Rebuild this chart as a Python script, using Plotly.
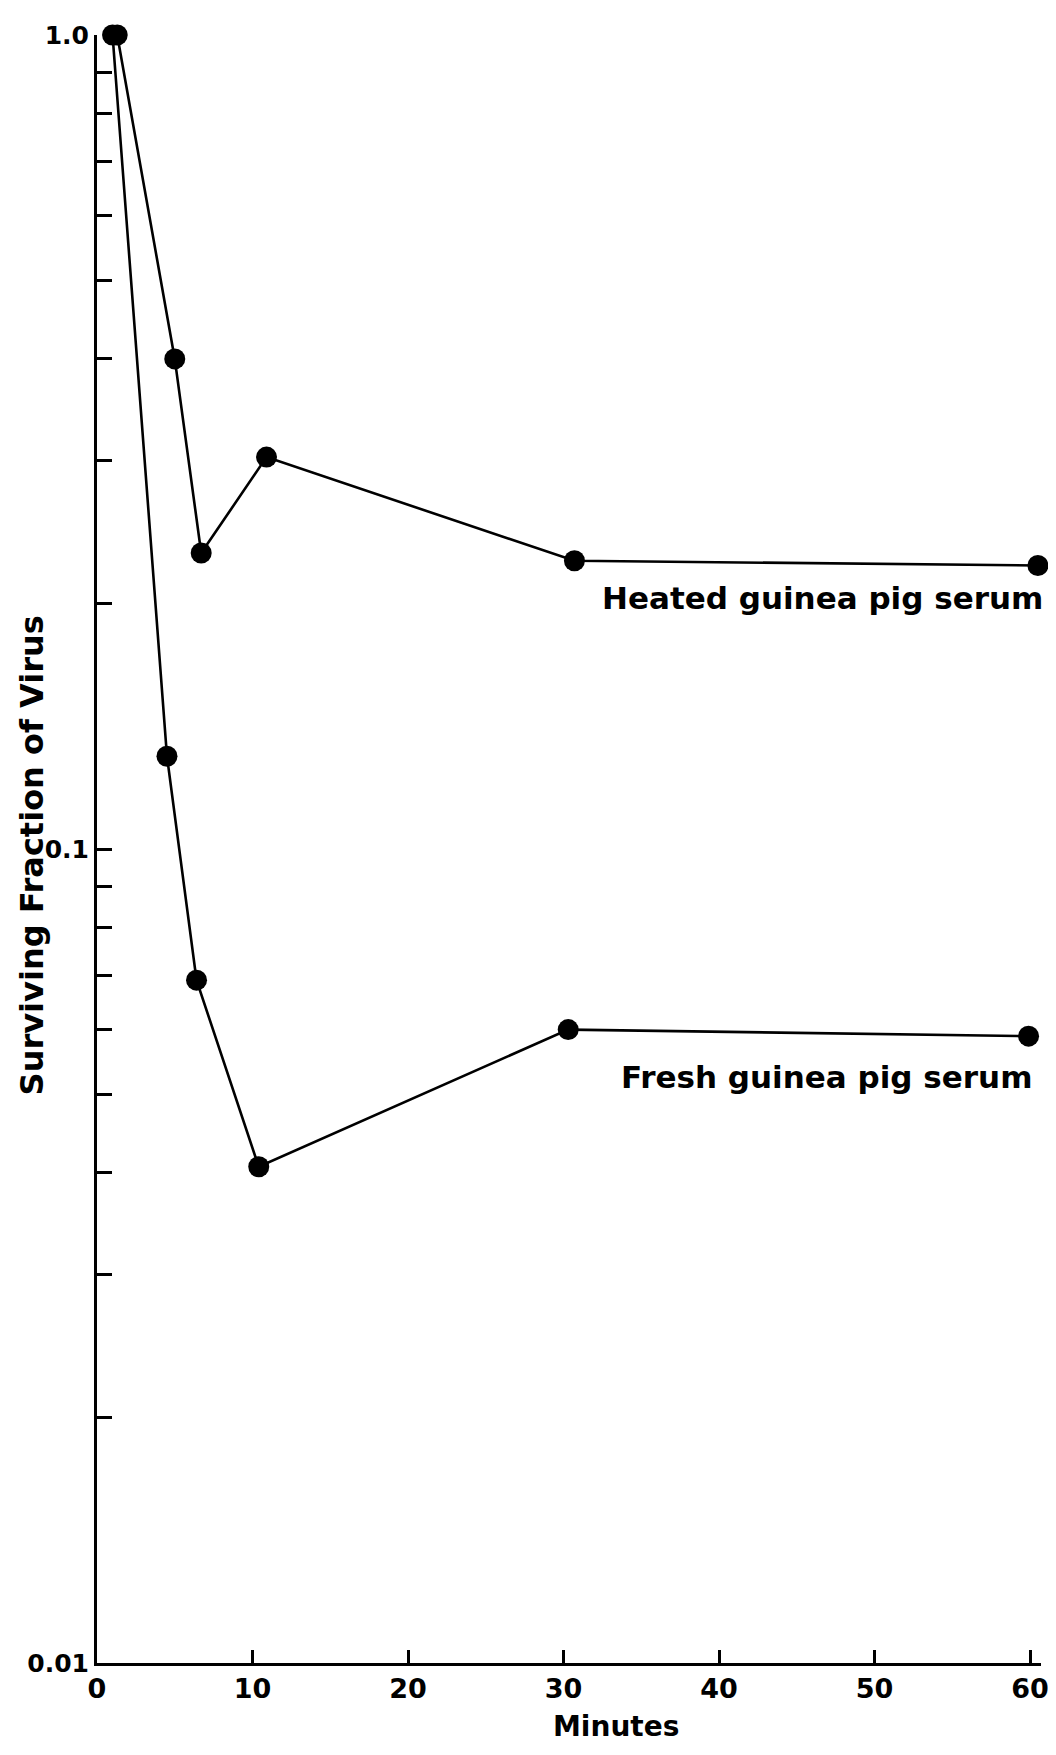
import plotly.graph_objects as go

# Data
heated_x = [1.3, 5.0, 6.7, 10.9, 30.7, 60.5]
heated_y = [1.0, 0.40, 0.231, 0.303, 0.226, 0.223]
fresh_x = [1.0, 4.5, 6.4, 10.4, 30.3, 59.9]
fresh_y = [1.0, 0.130, 0.069, 0.0407, 0.060, 0.0589]

x_ticks = [0, 10, 20, 30, 40, 50, 60]
y_tickvals = [0.01, 0.02, 0.03, 0.04, 0.05, 0.06, 0.07, 0.08, 0.09,
              0.1, 0.2, 0.3, 0.4, 0.5, 0.6, 0.7, 0.8, 0.9, 1.0]
y_labels = {0.01: "0.01", 0.1: "0.1", 1.0: "1.0"}
y_ticktext = [y_labels.get(v, "") for v in y_tickvals]

FONT = "DejaVu Sans"

fig = go.Figure()
for xs, ys in [(heated_x, heated_y), (fresh_x, fresh_y)]:
    fig.add_trace(go.Scatter(
        x=xs, y=ys, mode="lines+markers",
        line=dict(color="black", width=2.6),
        marker=dict(color="black", size=21),
        cliponaxis=False, showlegend=False,
    ))

fig.update_layout(
    width=1048, height=1738,
    margin=dict(l=89, r=7, t=27, b=83),
    paper_bgcolor="white", plot_bgcolor="white",
    font=dict(family=FONT, color="black", size=25, weight="bold"),
)
fig.update_xaxes(
    range=[0, 60.7], tickvals=x_ticks, ticktext=[str(v) for v in x_ticks],
    showgrid=False, zeroline=False, showline=True, linecolor="black", linewidth=3,
    ticks="inside", ticklen=13, tickwidth=3, tickcolor="black",
    ticklabeloverflow="allow",
    tickfont=dict(family=FONT, size=27, weight="bold"),
)
fig.update_yaxes(
    type="log", range=[-2, 0], tickvals=y_tickvals, ticktext=y_ticktext,
    showgrid=False, zeroline=False, showline=True, linecolor="black", linewidth=3,
    ticks="inside", ticklen=15, tickwidth=3, tickcolor="black",
    ticklabeloverflow="allow",
    tickfont=dict(family=FONT, size=25, weight="bold"),
)

fig.add_annotation(text="Heated guinea pig serum", xref="paper", yref="paper",
                   x=1.004, y=0.654, xanchor="right", yanchor="middle", showarrow=False,
                   font=dict(family=FONT, size=31, weight="bold"))
fig.add_annotation(text="Fresh guinea pig serum", xref="paper", yref="paper",
                   x=0.993, y=0.36, xanchor="right", yanchor="middle", showarrow=False,
                   font=dict(family=FONT, size=31, weight="bold"))
fig.add_annotation(text="Surviving Fraction of Virus", xref="paper", yref="paper",
                   x=-0.069, y=0.496, xanchor="center", yanchor="middle", textangle=-90,
                   showarrow=False, font=dict(family=FONT, size=32, weight="bold"))
fig.add_annotation(text="Minutes", xref="paper", yref="paper",
                   x=0.55, y=-0.039, xanchor="center", yanchor="middle",
                   showarrow=False, font=dict(family=FONT, size=28, weight="bold"))

fig.write_html("out.html")
